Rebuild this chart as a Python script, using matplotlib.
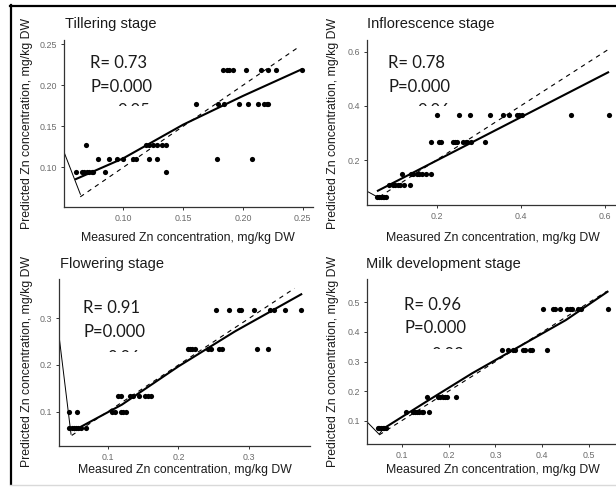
import matplotlib.pyplot as plt
from matplotlib.lines import Line2D
from matplotlib.transforms import Bbox

W, H = 616, 487

titles = ["Tillering stage", "Inflorescence stage", "Flowering stage", "Milk development stage"]
r_text = ["R= 0.73", "R= 0.78", "R= 0.91", "R= 0.96"]
p_text = ["P=0.000", "P=0.000", "P=0.000", "P=0.000"]
third_text = ["0.05", "0.06", "0.06", "0.03"]
xlabel = "Measured Zn concentration, mg/kg DW"
ylabel = "Predicted Zn concentration, mg/kg DW"

# Tillering
till_meas = [0.0604, 0.0652, 0.0671, 0.0694, 0.0716, 0.0736, 0.0749, 0.0847, 0.1357,
             0.0688, 0.1190, 0.1217, 0.1251, 0.1284, 0.1321, 0.1357,
             0.0791, 0.0883, 0.0945, 0.0995, 0.1084, 0.1106, 0.1217, 0.1284, 0.1786, 0.2079,
             0.1608, 0.1789, 0.1842, 0.1967, 0.2045, 0.2124, 0.2179, 0.2199, 0.2212,
             0.1836, 0.1865, 0.1886, 0.1920, 0.2026, 0.2151, 0.2212, 0.2277, 0.2492]
till_pred = [0.094] * 9 + [0.127] * 7 + [0.110] * 10 + [0.177] * 9 + [0.219] * 9
till_fit_x = [0.0604, 0.100, 0.150, 0.200, 0.2492]
till_fit_y = [0.0857, 0.1110, 0.1520, 0.1870, 0.2195]
till_one = [0.064, 0.246]
till_thin_x = [0.045, 0.0641]
till_thin_y = [0.139, 0.0671]

# Inflorescence
infl_meas = [0.200, 0.254, 0.279, 0.327, 0.358, 0.372, 0.390, 0.396, 0.402, 0.519, 0.610,
             0.1865, 0.2055, 0.2095, 0.238, 0.2435, 0.2475, 0.263, 0.2697, 0.2735, 0.281, 0.315,
             0.119, 0.139, 0.1445, 0.1525, 0.1587, 0.1644, 0.1746, 0.1865,
             0.0874, 0.0955, 0.101, 0.1073, 0.1128, 0.123, 0.1366,
             0.059, 0.0637, 0.0677, 0.0717, 0.0756, 0.0796]
infl_pred = [0.366] * 11 + [0.2675] * 11 + [0.147] * 8 + [0.109] * 7 + [0.062] * 6
infl_fit_x = [0.0606, 0.6076]
infl_fit_y = [0.0867, 0.5236]
infl_one = [0.064, 0.610]
infl_thin_x = [0.025, 0.058]
infl_thin_y = [0.093, 0.065]

# Flowering
flow_meas = [0.2529, 0.2717, 0.2849, 0.2882, 0.3071, 0.3288, 0.3344, 0.350, 0.3736,
             0.2132, 0.2165, 0.2198, 0.2236, 0.2424, 0.2462, 0.2575, 0.2613, 0.3117, 0.3273,
             0.115, 0.1188, 0.1316, 0.1354, 0.1447, 0.1528, 0.1566, 0.1613,
             0.0457, 0.0561, 0.1065, 0.1103, 0.1188, 0.1221, 0.1255,
             0.0457, 0.049, 0.0523, 0.0551, 0.0584, 0.0622, 0.0693]
flow_pred = [0.318] * 9 + [0.2345] * 10 + [0.134] * 8 + [0.100] * 7 + [0.0644] * 7
flow_fit_x = [0.0537, 0.120, 0.200, 0.280, 0.3736]
flow_fit_y = [0.0608, 0.1150, 0.1970, 0.2720, 0.3514]
flow_one = [0.049, 0.364]
flow_thin_x = [0.028, 0.048]
flow_thin_y = [0.300, 0.0516]

# Milk development
milk_meas = [0.402, 0.422, 0.427, 0.4375, 0.453, 0.459, 0.4625, 0.4766, 0.4823, 0.5405,
             0.3132, 0.3273, 0.3367, 0.3416, 0.358, 0.3629, 0.3736, 0.3785, 0.4105,
             0.1533, 0.1768, 0.1817, 0.1874, 0.1923, 0.196, 0.2158,
             0.1092, 0.1234, 0.1284, 0.1333, 0.1376, 0.1426, 0.146, 0.1589,
             0.0488, 0.0522, 0.0559, 0.0595, 0.0629, 0.0665]
milk_pred = [0.4774] * 10 + [0.3406] * 9 + [0.179] * 7 + [0.1304] * 8 + [0.0743] * 6
milk_fit_x = [0.0608, 0.150, 0.250, 0.350, 0.450, 0.539]
milk_fit_y = [0.0730, 0.1620, 0.2600, 0.3500, 0.4400, 0.5360]
milk_one = [0.052, 0.5375]
milk_thin_x = [0.020, 0.052, 0.0608]
milk_thin_y = [0.106, 0.054, 0.073]

panels = [
    dict(meas=till_meas, pred=till_pred, fx=till_fit_x, fy=till_fit_y, one=till_one,
         tx=till_thin_x, ty=till_thin_y, xlim=(0.0504, 0.2586), ylim=(0.052, 0.2552),
         xt=[0.10, 0.15, 0.20, 0.25], yt=[0.10, 0.15, 0.20, 0.25], fmt="{:.2f}",
         box=(64, 40, 313, 206.7)),
    dict(meas=infl_meas, pred=infl_pred, fx=infl_fit_x, fy=infl_fit_y, one=infl_one,
         tx=infl_thin_x, ty=infl_thin_y, xlim=(0.034, 0.624), ylim=(0.034, 0.643),
         xt=[0.2, 0.4, 0.6], yt=[0.2, 0.4, 0.6], fmt="{:.1f}",
         box=(366.7, 40, 615, 205)),
    dict(meas=flow_meas, pred=flow_pred, fx=flow_fit_x, fy=flow_fit_y, one=flow_one,
         tx=flow_thin_x, ty=flow_thin_y, xlim=(0.031, 0.386), ylim=(0.027, 0.3835),
         xt=[0.1, 0.2, 0.3], yt=[0.1, 0.2, 0.3], fmt="{:.1f}",
         box=(59, 279.3, 310, 445.7)),
    dict(meas=milk_meas, pred=milk_pred, fx=milk_fit_x, fy=milk_fit_y, one=milk_one,
         tx=milk_thin_x, ty=milk_thin_y, xlim=(0.0254, 0.555), ylim=(0.0213, 0.578),
         xt=[0.1, 0.2, 0.3, 0.4, 0.5], yt=[0.1, 0.2, 0.3, 0.4, 0.5], fmt="{:.1f}",
         box=(366.7, 279.3, 615, 444)),
]

# title pos, R text (left, center y), P center y, third line (left, top), axis label spots
title_pos = [(65, 24), (367, 24), (60, 264), (366, 264)]
r_pos = [(90, 63.3), (388.3, 63.3), (83.3, 308.3), (404.3, 305)]
p_y = [86.7, 86.7, 331.7, 328.3]
third_pos = [(117, 103.5), (417, 103.5), (108, 350), (432, 346.5)]
xlab_pos = [(188, 238), (493, 238), (185, 470), (493, 470)]
ylab_pos = [(27, 123.5), (333, 123.5), (27, 361), (333, 361)]

fig = plt.figure(figsize=(W / 100, H / 100), dpi=100)
fig.patch.set_facecolor("white")


def fx(px):
    return px / W


def fy(py):
    return 1 - py / H


for i, p in enumerate(panels):
    x0, y0, x1, y1 = p["box"]
    ax = fig.add_axes([fx(x0), fy(y1), (x1 - x0) / W, (y1 - y0) / H])
    ax.set_facecolor("none")
    ax.scatter(p["meas"], p["pred"], s=14, color="black", zorder=3, linewidths=0)
    ax.plot(p["fx"], p["fy"], color="black", lw=1.5, zorder=2)
    ax.plot(p["one"], p["one"], color="black", lw=0.8, ls=(0, (4, 4)), zorder=2)
    ax.plot(p["tx"], p["ty"], color="black", lw=0.7, zorder=2)
    ax.set_xlim(*p["xlim"])
    ax.set_ylim(*p["ylim"])
    ax.set_xticks(p["xt"])
    ax.set_xticklabels([p["fmt"].format(v) for v in p["xt"]])
    ax.set_yticks(p["yt"])
    ax.set_yticklabels([p["fmt"].format(v) for v in p["yt"]])
    for s in ["top", "right"]:
        ax.spines[s].set_visible(False)
    for s in ["left", "bottom"]:
        ax.spines[s].set_color("#333333")
        ax.spines[s].set_linewidth(0.9)
    ax.tick_params(length=2.5, width=0.7, color="#333333", labelsize=6.4,
                   labelcolor="#6b6b6b", pad=2.5)
    for lab in ax.get_xticklabels() + ax.get_yticklabels():
        lab.set_fontfamily("Liberation Sans")

    tx, ty = title_pos[i]
    fig.text(fx(tx), fy(ty), titles[i], fontsize=10.5, family="Liberation Sans",
             ha="left", va="center", color="#1a1a1a")
    rx, ry = r_pos[i]
    fig.text(fx(rx), fy(ry), r_text[i], fontsize=12, family="Lato", ha="left",
             va="center", color="#1a1a1a")
    fig.text(fx(rx), fy(p_y[i]), p_text[i], fontsize=12, family="Lato", ha="left",
             va="center", color="#1a1a1a")
    cx, ctop = third_pos[i]
    t3 = fig.text(fx(cx), fy(ctop), third_text[i], fontsize=12, family="Lato",
                  ha="left", va="top", color="#1a1a1a")
    t3.set_clip_box(Bbox.from_extents(0, H - (ctop + 2.2), W, H))
    t3.set_clip_on(True)

    lx, ly = xlab_pos[i]
    fig.text(fx(lx), fy(ly), xlabel, fontsize=8.8, family="Liberation Sans",
             ha="center", va="center", color="#1a1a1a")
    lx, ly = ylab_pos[i]
    fig.text(fx(lx), fy(ly), ylabel, fontsize=8.8, family="Liberation Sans",
             ha="center", va="center", rotation=90, color="#1a1a1a")

# outer frame
fig.add_artist(Line2D([fx(10), 1], [fy(5.5), fy(5.5)], transform=fig.transFigure,
                      color="black", lw=1.6))
fig.add_artist(Line2D([fx(10.5), fx(10.5)], [fy(5), fy(484)], transform=fig.transFigure,
                      color="black", lw=1.6))
fig.add_artist(Line2D([fx(10), 1], [fy(485), fy(485)], transform=fig.transFigure,
                      color="#d9d9d9", lw=1.0))

fig.savefig("out.png", dpi=100)
